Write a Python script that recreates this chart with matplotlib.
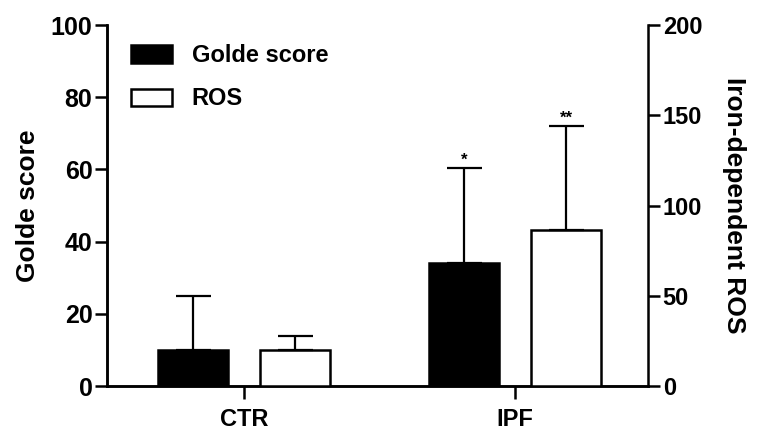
import matplotlib
matplotlib.use("Agg")
import matplotlib.pyplot as plt
from matplotlib.patches import Patch
import numpy as np

plt.rcParams['font.family'] = ['Liberation Sans', 'DejaVu Sans']

groups = ['CTR', 'IPF']
golde = [10, 34]
golde_err = [15, 26.5]
ros = [20, 86.5]
ros_err = [7.7, 57.5]
stars_golde = ['', '*']
stars_ros = ['', '**']

x = np.arange(len(groups))
w = 0.258
off = 0.188
lw = 1.8

fig = plt.figure(figsize=(7.67, 4.41), dpi=100)
ax1 = fig.add_axes([0.1395, 0.1247, 0.7055, 0.8186])
ax2 = ax1.twinx()

ekw = dict(elinewidth=1.6, capthick=1.6, ecolor='black')
ax1.bar(x - off, golde, w, color='black', edgecolor='black', linewidth=lw,
        yerr=[[0, 0], golde_err], capsize=12.6, error_kw=ekw, zorder=3)
ax2.bar(x + off, ros, w, color='white', edgecolor='black', linewidth=lw,
        yerr=[[0, 0], ros_err], capsize=12.6, error_kw=ekw, zorder=3)

for i in range(len(groups)):
    if stars_golde[i]:
        ax1.annotate(stars_golde[i], (x[i] - off, golde[i] + golde_err[i]),
                     xytext=(0, 0), textcoords='offset points', ha='center',
                     va='bottom', fontsize=12, fontweight='bold')
    if stars_ros[i]:
        ax2.annotate(stars_ros[i], (x[i] + off, ros[i] + ros_err[i]),
                     xytext=(0, 0), textcoords='offset points', ha='center',
                     va='bottom', fontsize=12, fontweight='bold')

ax1.set_xlim(-0.5055, 1.4908)
ax1.set_ylim(0, 100)
ax2.set_ylim(0, 200)
ax1.set_yticks([0, 20, 40, 60, 80, 100])
ax2.set_yticks([0, 50, 100, 150, 200])
ax1.set_xticks(x)
ax1.set_xticklabels(groups)

for ax in (ax1, ax2):
    ax.spines['top'].set_visible(False)
    for s in ax.spines.values():
        s.set_linewidth(lw)
    ax.tick_params(width=lw, length=8.5, pad=2)
ax1.tick_params(axis='y', labelsize=18)
ax2.tick_params(axis='y', labelsize=17)
for ax in (ax1, ax2):
    for lab in ax.get_yticklabels():
        lab.set_fontweight('bold')
ax1.spines['right'].set_visible(False)
ax1.tick_params(axis='x', length=9.5, labelsize=17, pad=6)
for lab in ax1.get_xticklabels():
    lab.set_fontweight('bold')

ax1.set_ylabel('Golde score', fontsize=19, fontweight='bold', labelpad=8)
ax2.set_ylabel('Iron-dependent ROS', fontsize=19, fontweight='bold',
               rotation=-90, va='bottom', labelpad=14)

handles = [Patch(facecolor='black', edgecolor='black', linewidth=lw),
           Patch(facecolor='white', edgecolor='black', linewidth=lw)]
leg = ax1.legend(handles, ['Golde score', 'ROS'], loc='upper left',
                 bbox_to_anchor=(0.022, 0.979), frameon=False, fontsize=17,
                 borderpad=0, handlelength=1.74, handleheight=0.76,
                 handletextpad=0.85, labelspacing=0.85)
for t in leg.get_texts():
    t.set_fontweight('bold')

fig.savefig('out.png', dpi=100)
